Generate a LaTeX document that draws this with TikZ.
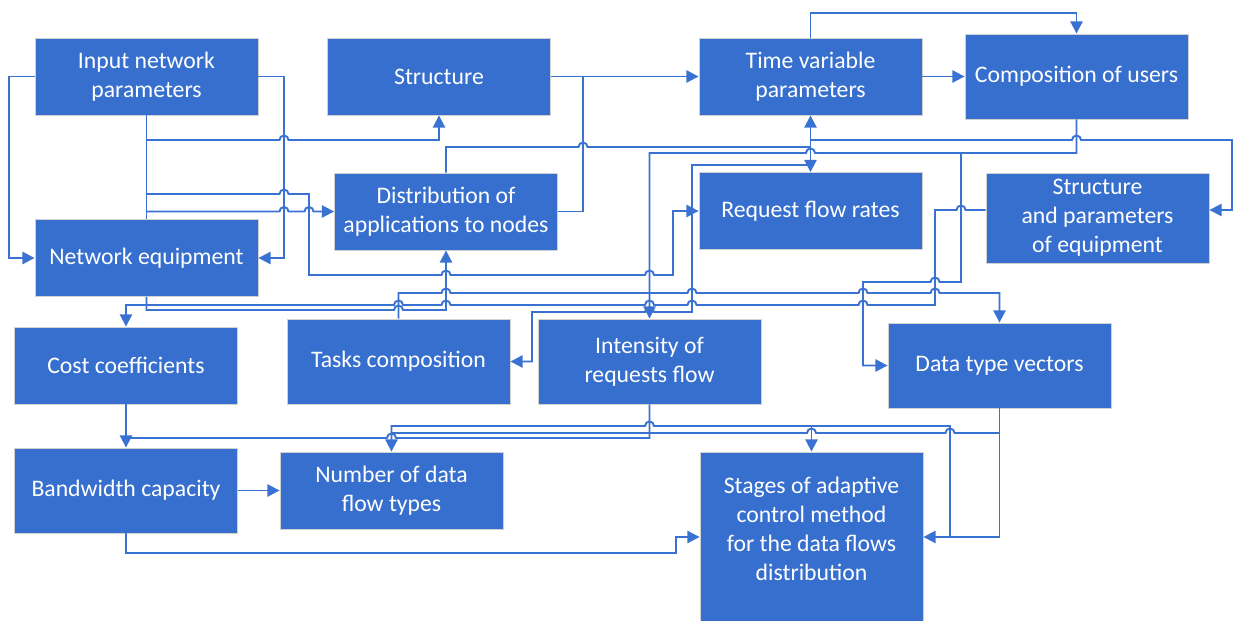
\documentclass[tikz,border=0pt]{standalone}
\usepackage{fontspec}
\setmainfont{Carlito}
\usetikzlibrary{arrows.meta}
\definecolor{boxblue}{RGB}{55,111,206}
\definecolor{linkblue}{RGB}{58,114,212}
% horizontal hop over a vertical line at x=#1, y=#2 (rightward / leftward)
\newcommand{\hopR}[2]{-- (#1-4.5,#2) arc[start angle=180,end angle=0,radius=0.09cm]}
\newcommand{\hopL}[2]{-- (#1+4.5,#2) arc[start angle=0,end angle=180,radius=0.09cm]}
\begin{document}
\begin{tikzpicture}[x=0.02cm,y=-0.02cm,
  blk/.style={fill=boxblue,draw=black!18,line width=0.5pt,text=white,align=center,
    font=\fontsize{13.5}{16.5}\selectfont,inner sep=0pt,minimum width=4.46cm,minimum height=1.54cm},
  tall/.style={minimum height=1.7cm},
  conn/.style={draw=linkblue,line width=1.1pt},
  arr/.style={conn,-{Triangle[length=7pt,width=7pt]}},
]
\useasboundingbox (0,0) rectangle (1234,621);

% blocks
\node[blk] (inp) at (146.5,76.5) {Input network\\parameters};
\node[blk] (str) at (439,76.5) {Structure};
\node[blk] (tvp) at (810.5,76.5) {Time variable\\parameters};
\node[blk,tall] (cou) at (1076.5,76.5) {Composition of users};
\node[blk] (dis) at (446,211.5) {Distribution of\\applications to nodes};
\node[blk] (rfr) at (810.5,211) {Request flow rates};
\node[blk,minimum height=1.8cm] (sep) at (1097.5,218) {Structure\\and parameters\\of equipment};
\node[blk] (neq) at (146.5,258) {Network equipment};
\node[blk] (cco) at (126,365.5) {Cost coefficients};
\node[blk,tall] (tco) at (398.5,361.5) {Tasks composition};
\node[blk,tall] (irf) at (649.5,361.5) {Intensity of\\requests flow};
\node[blk,tall] (dtv) at (999.5,365.5) {Data type vectors};
\node[blk,tall] (bwc) at (126,490.5) {Bandwidth capacity};
\node[blk] (ndf) at (391.5,490.5) {Number of data\\flow types};
\node[blk,minimum height=3.4cm] (sac) at (811.5,537) {};
\node[text=white,align=center,font=\fontsize{13.5}{16.5}\selectfont] (sactext) at (811.5,529)
  {Stages of adaptive\\control method\\for the data flows\\distribution};

% connectors
\draw[arr] (inp.west) -- (9,76.5) -- (9,258) -- (neq.west);
\draw[arr] (inp.east) -- (284,76.5) -- (284,258) -- (neq.east);
\draw[conn] (inp.south) -- (neq.north);
\draw[arr] (146.5,140) \hopR{284}{140} -- (439,140) -- (str.south);
\draw[arr] (146.5,194) \hopR{284}{194} -- (309,194) -- (309,275) \hopR{446}{275} \hopR{649.5}{275}
  -- (673,275) -- (673,211) -- (rfr.west);
\draw[arr] (146.5,211.5) \hopR{284}{211.5} \hopR{309}{211.5} -- (dis.west);
\draw[arr] (str.east) -- (tvp.west);
\draw[conn] (dis.east) -- (583,211.5) -- (583,76.5);
\draw[conn] (dis.north) -- (446,147) \hopR{583}{147} -- (810.5,147);
\draw[arr] (810.5,147) -- (tvp.south);
\draw[arr] (810.5,147) -- (rfr.north);
\draw[arr] (810.5,140) \hopR{1076.5}{140} -- (1232,140) -- (1232,210) -- ([yshift=0.16cm]sep.east);
\draw[arr] (810.5,165) -- (692,165) -- (692,312) \hopL{649.5}{312} -- (532,312) -- (532,361.5) -- (tco.east);
\draw[arr] (cou.south) -- (1076.5,153) \hopL{810.5}{153} -- (649.5,153) -- (irf.north);
\draw[arr] (961,153) -- (961,282) \hopL{935}{282} -- (863,282) -- (863,365.5) -- (dtv.west);
\draw[arr] (tco.north) -- (398.5,293) \hopR{446}{293} \hopR{692}{293} \hopR{863}{293} \hopR{935}{293}
  -- (999.5,293) -- (dtv.north);
\draw[arr] ([yshift=0.16cm]sep.west) \hopL{961}{210} -- (935,210) -- (935,305) \hopL{863}{305}
  \hopL{692}{305} \hopL{649.5}{305} \hopL{446}{305} \hopL{398.5}{305} -- (126,305) -- (cco.north);
\draw[arr] (neq.south) -- (146.5,310) \hopR{398.5}{310} -- (446,310) -- (dis.south);
\draw[arr] (cco.south) -- (bwc.north);
\draw[conn] (irf.south) -- (649.5,438) \hopL{391.5}{438} -- (126,438);
\draw[arr] (950,537) -- (950,426) \hopL{649.5}{426} -- (391.5,426) -- (ndf.north);
\draw[arr] (811.5,426) -- (sac.north);
\draw[arr] (dtv.south) -- (999.5,537) -- (sac.east);
\draw[conn] (999.5,433) \hopL{950}{433} \hopL{811.5}{433} -- (391.5,433);
\draw[arr] (bwc.east) -- (ndf.west);
\draw[arr] (bwc.south) -- (126,553) -- (676,553) -- (676,537) -- (sac.west);
\draw[arr] (tvp.north) -- (810.5,13) -- (1076.5,13) -- (cou.north);
\draw[arr] (tvp.east) -- (cou.west);
\end{tikzpicture}
\end{document}
